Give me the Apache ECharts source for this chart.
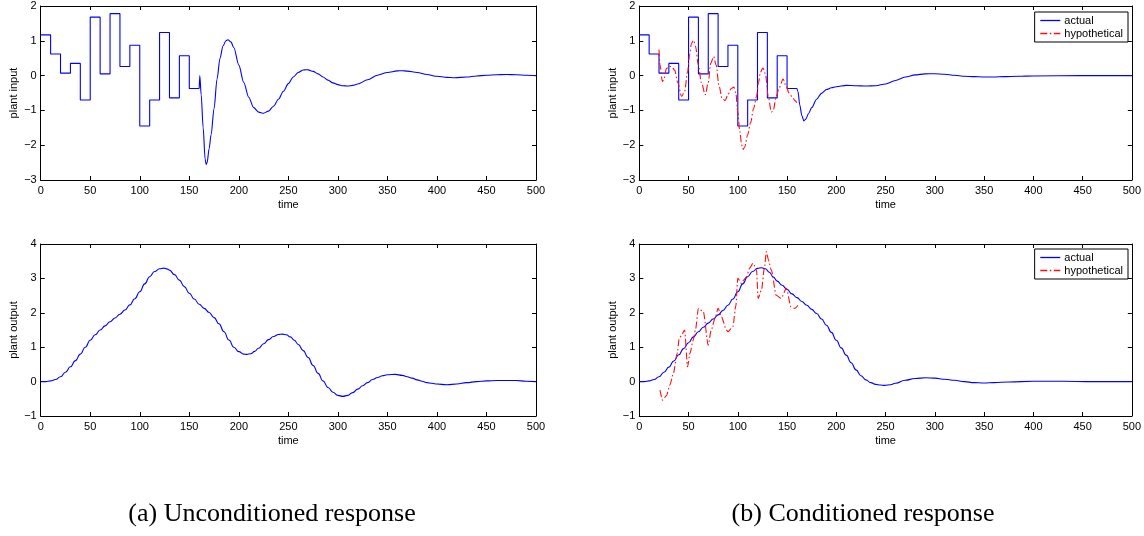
<!DOCTYPE html>
<html>
<head>
<meta charset="utf-8">
<script src="https://cdn.jsdelivr.net/npm/echarts@6/dist/echarts.min.js"></script>
<style>html,body{margin:0;padding:0;background:#fff;}#c{width:1144px;height:536px;}</style>
</head>
<body>
<div id="c"></div>
<script>
// ---------- data ----------
const xTicks = [0, 50, 100, 150, 200, 250, 300, 350, 400, 450, 500];
const stepTimes = [0, 10, 20, 30, 40, 50, 60, 70, 80, 90, 100, 110, 120, 130, 140, 150, 160];
const stepValues = [1.17, 0.62, 0.07, 0.35, -0.70, 1.68, 0.05, 1.78, 0.26, 0.87, -1.45, -0.70, 1.24, -0.64, 0.57, -0.37];

// (a) unconditioned input after t=160
const inA_t = [160, 160.6, 162, 164, 166, 167, 168, 170, 172, 175, 178, 181, 184, 187, 189, 192, 195, 200, 205, 210, 215, 220, 225, 230, 235, 240, 245, 250, 255, 260, 265, 268, 270, 275, 280, 285, 290, 295, 300, 305, 310, 315, 320, 330, 340, 350, 360, 365, 370, 380, 390, 400, 410, 418, 430, 440, 450, 460, 470, 480, 490, 500];
const inA_v = [-0.37, 0.0, -0.55, -1.5, -2.4, -2.55, -2.5, -2.1, -1.7, -0.95, -0.1, 0.5, 0.85, 1.0, 1.03, 0.97, 0.8, 0.3, -0.2, -0.62, -0.92, -1.05, -1.08, -1.02, -0.88, -0.68, -0.45, -0.23, -0.04, 0.09, 0.16, 0.17, 0.165, 0.12, 0.05, -0.04, -0.13, -0.21, -0.26, -0.29, -0.30, -0.28, -0.24, -0.12, 0.01, 0.09, 0.135, 0.14, 0.13, 0.09, 0.03, -0.02, -0.05, -0.06, -0.04, -0.01, 0.01, 0.025, 0.03, 0.025, 0.01, 0.0];

// (a) unconditioned output
const outA_t = [0, 5, 10, 15, 20, 25, 30, 35, 40, 45, 50, 55, 60, 65, 70, 75, 80, 85, 90, 95, 100, 105, 110, 115, 120, 124, 128, 130, 135, 140, 145, 150, 155, 160, 165, 170, 175, 180, 185, 190, 195, 200, 205, 208, 212, 216, 220, 225, 230, 235, 240, 244, 248, 252, 256, 260, 265, 270, 275, 280, 285, 290, 295, 300, 305, 310, 315, 320, 325, 330, 335, 340, 345, 350, 358, 365, 370, 375, 380, 385, 390, 395, 400, 410, 420, 430, 440, 450, 460, 470, 480, 490, 500];
const outA_v = [0, 0.0, 0.02, 0.06, 0.14, 0.27, 0.43, 0.61, 0.8, 1.0, 1.2, 1.36, 1.5, 1.62, 1.74, 1.85, 1.96, 2.08, 2.23, 2.41, 2.61, 2.84, 3.05, 3.2, 3.28, 3.3, 3.27, 3.24, 3.11, 2.95, 2.76, 2.57, 2.4, 2.25, 2.13, 2.01, 1.86, 1.68, 1.45, 1.21, 1.0, 0.87, 0.8, 0.79, 0.81, 0.88, 0.97, 1.1, 1.22, 1.31, 1.37, 1.38, 1.36, 1.3, 1.2, 1.08, 0.9, 0.7, 0.47, 0.24, 0.02, -0.17, -0.31, -0.40, -0.43, -0.40, -0.32, -0.22, -0.12, -0.03, 0.06, 0.12, 0.17, 0.2, 0.21, 0.18, 0.14, 0.1, 0.05, 0.01, -0.03, -0.05, -0.07, -0.09, -0.07, -0.03, 0.0, 0.02, 0.03, 0.03, 0.03, 0.01, 0.0];

// (b) conditioned input after t=160 (actual)
const inB_t = [160, 161, 163, 165, 167, 169, 172, 175, 180, 185, 190, 195, 200, 210, 220, 230, 240, 250, 260, 270, 280, 290, 300, 310, 320, 330, 340, 350, 360, 370, 385, 400, 450, 500];
const inB_v = [-0.37, -0.45, -0.85, -1.15, -1.30, -1.25, -1.08, -0.92, -0.68, -0.51, -0.40, -0.35, -0.32, -0.28, -0.29, -0.30, -0.29, -0.24, -0.14, -0.04, 0.02, 0.05, 0.055, 0.04, 0.01, -0.02, -0.03, -0.04, -0.04, -0.03, -0.02, -0.01, 0.0, 0.0];

// (b) conditioned input, hypothetical
const hypIn_t = [20, 21, 23.5, 25, 27.5, 30, 33, 36, 39, 43, 46, 49, 51, 53, 55, 57, 60, 63, 67, 70, 72.5, 75.5, 78, 81, 84, 87, 90, 93, 96, 98, 100, 102, 104, 105.5, 107, 110, 113, 116, 119, 121, 123, 125.5, 128, 131, 134, 136, 139, 142, 146, 149, 152, 155, 158, 160];
const hypIn_v = [0.75, 0.3, -0.17, -0.1, 0.2, 0.27, 0.25, 0.15, -0.2, -0.6, -0.45, 0.1, 0.6, 0.93, 1.02, 0.85, 0.3, -0.2, -0.55, -0.2, 0.35, 0.55, 0.3, -0.3, -0.65, -0.72, -0.55, -0.38, -0.33, -0.5, -1.05, -1.6, -2.0, -2.12, -2.05, -1.7, -1.35, -0.95, -0.6, -0.2, 0.1, 0.22, 0.05, -0.6, -1.05, -1.0, -0.6, -0.35, -0.1, -0.3, -0.5, -0.6, -0.72, -0.78];

// (b) conditioned output, actual
const outB_t = [0, 5, 10, 15, 20, 25, 30, 35, 40, 45, 50, 55, 60, 65, 70, 75, 80, 85, 90, 95, 100, 105, 110, 115, 120, 124, 128, 132, 136, 140, 145, 150, 155, 160, 165, 170, 175, 180, 185, 190, 195, 200, 205, 210, 215, 220, 225, 230, 235, 240, 245, 249, 255, 260, 270, 280, 291, 300, 310, 320, 330, 340, 350, 360, 375, 400, 430, 460, 500];
const outB_v = [0, 0.0, 0.02, 0.06, 0.14, 0.27, 0.42, 0.6, 0.78, 0.96, 1.13, 1.3, 1.45, 1.58, 1.7, 1.82, 1.94, 2.07, 2.22, 2.4, 2.61, 2.84, 3.05, 3.2, 3.29, 3.31, 3.28, 3.18, 3.04, 2.92, 2.8, 2.68, 2.55, 2.44, 2.33, 2.22, 2.1, 1.98, 1.82, 1.64, 1.43, 1.2, 0.98, 0.77, 0.55, 0.34, 0.17, 0.05, -0.03, -0.08, -0.1, -0.11, -0.09, -0.05, 0.04, 0.09, 0.11, 0.1, 0.07, 0.04, 0.0, -0.03, -0.04, -0.03, -0.01, 0.01, 0.01, 0.0, 0.0];

// (b) conditioned output, hypothetical
const hypOut_t = [21, 23.6, 27.7, 31, 34.5, 38.5, 40.5, 43, 46, 49, 51.4, 54.7, 57, 60, 65, 70, 73, 77, 80, 83.4, 88.5, 90, 95, 98, 100, 103.7, 106, 108.8, 112, 115.5, 119, 120.6, 124, 127, 129, 131, 134, 139, 144, 149.3, 154, 158, 161];
const hypOut_v = [-0.25, -0.54, -0.40, -0.1, 0.23, 0.82, 1.25, 1.35, 1.5, 0.43, 0.82, 1.2, 1.5, 2.13, 2.03, 1.06, 1.5, 1.85, 2.13, 1.88, 1.5, 1.45, 1.6, 2.2, 3.0, 2.85, 2.95, 3.05, 3.3, 3.44, 3.24, 2.42, 2.66, 3.3, 3.78, 3.55, 3.24, 2.51, 2.42, 2.71, 2.17, 2.13, 2.22];

const captions = ['(a) Unconditioned response', '(b) Conditioned response'];

// ---------- helpers ----------
function pairs(t, v) { return t.map((x, i) => [x, v[i]]); }
function stepPairs(ts, vs) {
  const out = [];
  for (let i = 0; i < vs.length; i++) { out.push([ts[i], vs[i]]); out.push([ts[i + 1], vs[i]]); }
  return out;
}
const FONT = 'Liberation Sans, Arial, Helvetica, sans-serif';
const SERIF = 'Liberation Serif, Times New Roman, serif';
const minus = v => String(v).replace('-', '\u2212');

const grids = [
  { left: 40.7, top: 6, width: 495.3, height: 174 },
  { left: 40.7, top: 244, width: 495.3, height: 172 },
  { left: 639.3, top: 6, width: 494.7, height: 174 },
  { left: 639.3, top: 244, width: 494.7, height: 172 }
];
const yRanges = [[-3, 2, 'plant input'], [-1, 4, 'plant output'], [-3, 2, 'plant input'], [-1, 4, 'plant output']];

const xAxes = [], yAxes = [];
grids.forEach((g, i) => {
  const common = {
    gridIndex: i, type: 'value', min: 0, max: 500, interval: 50,
    axisLine: { show: true, onZero: false, lineStyle: { color: '#000', width: 1 } },
    axisTick: { show: true, inside: true, length: 4, lineStyle: { color: '#000' } },
    splitLine: { show: false }
  };
  xAxes.push(Object.assign({}, common, {
    position: 'bottom', name: 'time', nameLocation: 'middle', nameGap: 19,
    nameTextStyle: { fontFamily: FONT, fontSize: 11, color: '#000' },
    axisLabel: { show: true, fontFamily: FONT, fontSize: 11, color: '#000', margin: 5, formatter: minus }
  }));
  xAxes.push(Object.assign({}, common, { position: 'top', axisLabel: { show: false } }));
  const ycommon = {
    gridIndex: i, type: 'value', min: yRanges[i][0], max: yRanges[i][1], interval: 1,
    axisLine: { show: true, onZero: false, lineStyle: { color: '#000', width: 1 } },
    axisTick: { show: true, inside: true, length: 4, lineStyle: { color: '#000' } },
    splitLine: { show: false }
  };
  yAxes.push(Object.assign({}, ycommon, {
    position: 'left', name: yRanges[i][2], nameLocation: 'middle', nameGap: 21,
    nameTextStyle: { fontFamily: FONT, fontSize: 11, color: '#000' },
    axisLabel: { show: true, fontFamily: FONT, fontSize: 11, color: '#000', margin: 4, formatter: minus }
  }));
  yAxes.push(Object.assign({}, ycommon, { position: 'right', axisLabel: { show: false } }));
});

const BLUE = '#0000ff', RED = '#ff1010';
function line(name, gi, data, color, dashed, smooth) {
  return {
    name: name, type: 'line', xAxisIndex: 2 * gi, yAxisIndex: 2 * gi,
    data: data, showSymbol: false, symbol: 'none', smooth: smooth, smoothMonotone: 'x',
    lineStyle: { color: color, width: 1.1, type: dashed ? [7, 2.5, 1.5, 2.5] : 'solid' },
    itemStyle: { color: color }, animation: false, z: dashed ? 3 : 2, silent: true
  };
}

const series = [
  line('a input steps', 0, stepPairs(stepTimes, stepValues), BLUE, false, false),
  line('a input', 0, pairs(inA_t, inA_v), BLUE, false, 0.3),
  line('a output', 1, pairs(outA_t, outA_v), BLUE, false, 0.5),
  line('actual', 2, stepPairs(stepTimes, stepValues), BLUE, false, false),
  line('actual', 2, pairs(inB_t, inB_v), BLUE, false, 0.3),
  line('hypothetical', 2, pairs(hypIn_t, hypIn_v), RED, true, 0.3),
  line('actual', 3, pairs(outB_t, outB_v), BLUE, false, 0.5),
  line('hypothetical', 3, pairs(hypOut_t, hypOut_v), RED, true, 0.25)
];

function legend(top) {
  return {
    data: ['actual', 'hypothetical'], orient: 'vertical', right: 16, top: top,
    backgroundColor: '#fff', borderColor: '#000', borderWidth: 1, borderRadius: 0,
    padding: [3, 5, 3, 5], itemGap: 2, itemWidth: 20, itemHeight: 10, selectedMode: false,
    itemStyle: { opacity: 0 },
    lineStyle: { width: 1.3 },
    textStyle: { fontFamily: FONT, fontSize: 11, color: '#000', padding: [0, 0, 0, -1] }
  };
}

const chart = echarts.init(document.getElementById('c'), null, { renderer: 'canvas' });
chart.setOption({
  backgroundColor: '#fff',
  animation: false,
  grid: grids,
  xAxis: xAxes,
  yAxis: yAxes,
  legend: [legend(12), legend(249)],
  series: series,
  graphic: [
    { type: 'text', x: 272, y: 514, style: { text: captions[0], fontFamily: SERIF, fontSize: 26, fill: '#000', textAlign: 'center', textVerticalAlign: 'middle' } },
    { type: 'text', x: 863, y: 514, style: { text: captions[1], fontFamily: SERIF, fontSize: 26, fill: '#000', textAlign: 'center', textVerticalAlign: 'middle' } }
  ]
});
</script>
</body>
</html>
